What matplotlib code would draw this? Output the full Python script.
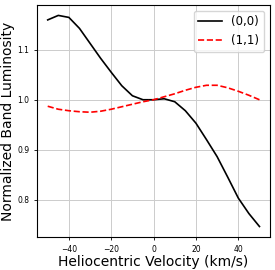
import matplotlib
matplotlib.use("Agg")
import matplotlib.pyplot as plt

velocity = [-50, -45, -40, -35, -30, -25, -20, -15, -10, -5, 0,
            5, 10, 15, 20, 25, 30, 35, 40, 45, 50]
lum_00 = [1.160, 1.169, 1.165, 1.143, 1.113, 1.083, 1.055, 1.028, 1.008, 1.000, 1.000,
          1.002, 0.996, 0.978, 0.953, 0.920, 0.886, 0.845, 0.803, 0.772, 0.746]
lum_11 = [0.987, 0.981, 0.978, 0.976, 0.975, 0.977, 0.981, 0.986, 0.991, 0.996, 1.000,
          1.006, 1.012, 1.019, 1.025, 1.029, 1.029, 1.024, 1.017, 1.009, 1.000]

fig, ax = plt.subplots(figsize=(2.75, 2.7), dpi=100)
fig.subplots_adjust(left=0.135, right=0.982, top=0.982, bottom=0.122)

ax.plot(velocity, lum_00, color='black', lw=1.2, label='(0,0)')
ax.plot(velocity, lum_11, color='red', lw=1.2, ls='--', label='(1,1)')

ax.grid(True, color='#cccccc', lw=0.7)
ax.tick_params(labelsize=5.5, length=2, width=0.6)
ax.set_xlabel('Heliocentric Velocity (km/s)', fontsize=10, labelpad=1)
ax.set_ylabel('Normalized Band Luminosity', fontsize=10, labelpad=2)
ax.legend(loc='upper right', fontsize=8.5)

fig.savefig('out.png', dpi=100)
